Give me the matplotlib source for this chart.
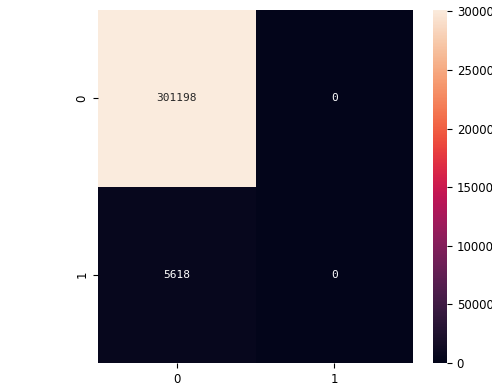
import numpy as np
import matplotlib
matplotlib.use("Agg")
import matplotlib.pyplot as plt
import seaborn as sns

# confusion matrix: rows = true class, cols = predicted class
labels = [0, 1]
cm_row0 = [301198, 0]
cm_row1 = [5618, 0]
cm = np.array([cm_row0, cm_row1])

fig = plt.figure(figsize=(4.92, 3.85), dpi=100)
ax = fig.add_axes([98 / 492, 22 / 385, 315 / 492, 353 / 385])
cax = fig.add_axes([433 / 492, 22 / 385, 14 / 492, 353 / 385])

sns.heatmap(cm, annot=True, fmt="d", ax=ax, cbar_ax=cax,
            xticklabels=labels, yticklabels=labels,
            annot_kws={"family": "DejaVu Sans Mono", "fontsize": 8})
ax.tick_params(labelsize=8.5)
cax.tick_params(labelsize=8.5)
plt.setp(ax.get_yticklabels(), rotation=90, va="center")

fig.savefig("out.png", dpi=100)
